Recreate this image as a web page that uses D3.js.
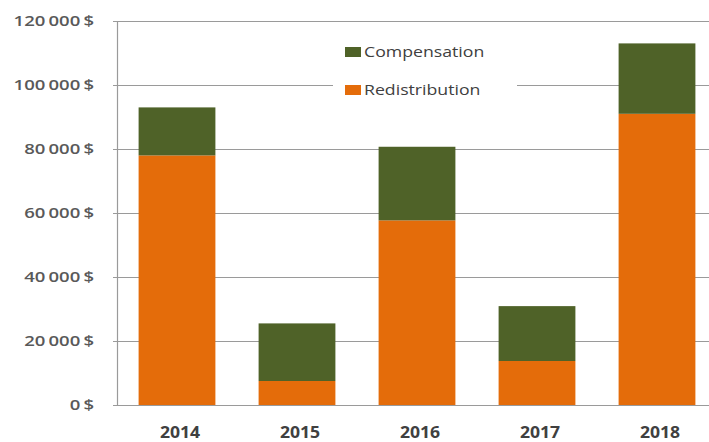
<!DOCTYPE html>
<html>
<head>
<meta charset="utf-8">
<script src="https://cdn.jsdelivr.net/npm/d3@7"></script>
<style>
  body { margin: 0; background: #fff; }
  svg { display: block; font-family: 'Open Sans', sans-serif; }
</style>
</head>
<body>
<div id="chart"></div>
<script>
const years = ['2014', '2015', '2016', '2017', '2018']
const redistribution = [78000, 7500, 57700, 13750, 91000]
const compensation = [15000, 18000, 23000, 17150, 22000]
const yTicks = [0, 20000, 40000, 60000, 80000, 100000, 120000]
const seriesNames = ['Compensation', 'Redistribution']
const seriesColors = { Compensation: '#4F6228', Redistribution: '#E46C0A' }

const width = 709
const height = 442
const plotLeft = 117
const plotTop = 21
const plotBottom = 405
const plotRight = 717

// the source picture is a bit stretched sideways, so text gets a small scaleX
const stretchY = 1.28
const stretchLegend = 1.18
const stretchX = 1.1

const rows = years.map((year, i) => ({
  year,
  Redistribution: redistribution[i],
  Compensation: compensation[i],
}))
const stacked = d3.stack().keys(['Redistribution', 'Compensation'])(rows)

const x = d3
  .scaleBand()
  .domain(years)
  .range([plotLeft, plotRight])
  .paddingInner(0.36)
  .paddingOuter(0.18)

const y = d3.scaleLinear().domain([0, 120000]).range([plotBottom, plotTop])

const formatMoney = v => d3.format(',')(v).replace(/,/g, '\u2009') + '\u2009$'

const svg = d3
  .select('#chart')
  .append('svg')
  .attr('width', width)
  .attr('height', height)

// gridlines
svg
  .append('g')
  .selectAll('line')
  .data(yTicks.filter(d => d > 0))
  .join('line')
  .attr('x1', plotLeft - 4)
  .attr('x2', width)
  .attr('y1', d => y(d) + 0.5)
  .attr('y2', d => y(d) + 0.5)
  .attr('stroke', '#9a9a9a')
  .attr('stroke-width', 1.2)

// y tick labels
svg
  .append('g')
  .attr('transform', `scale(${stretchY}, 1)`)
  .selectAll('text')
  .data(yTicks)
  .join('text')
  .attr('x', 94 / stretchY)
  .attr('y', d => y(d))
  .attr('dy', '0.35em')
  .attr('text-anchor', 'end')
  .attr('fill', '#595959')
  .attr('font-size', 14.5)
  .attr('font-weight', 600)
  .text(formatMoney)

// legend box, sits over the gridlines
const legend = svg.append('g')
legend
  .append('rect')
  .attr('x', 333)
  .attr('y', 32)
  .attr('width', 184)
  .attr('height', 76)
  .attr('fill', '#fff')

const legendItems = legend
  .selectAll('g')
  .data(seriesNames)
  .join('g')
  .attr('transform', (d, i) => `translate(345, ${52 + i * 38})`)
legendItems
  .append('rect')
  .attr('x', 0)
  .attr('y', -5)
  .attr('width', 16)
  .attr('height', 10)
  .attr('fill', d => seriesColors[d])
legendItems
  .append('text')
  .attr('transform', `scale(${stretchLegend}, 1)`)
  .attr('x', 19 / stretchLegend)
  .attr('y', 0)
  .attr('dy', '0.35em')
  .attr('fill', '#404040')
  .attr('font-size', 15)
  .attr('font-weight', 500)
  .text(d => d)

// bars
svg
  .append('g')
  .selectAll('g')
  .data(stacked)
  .join('g')
  .attr('fill', d => seriesColors[d.key])
  .selectAll('rect')
  .data(d => d)
  .join('rect')
  .attr('x', d => x(d.data.year))
  .attr('width', x.bandwidth())
  .attr('y', d => y(d[1]))
  .attr('height', d => y(d[0]) - y(d[1]))

// axes lines
svg
  .append('line')
  .attr('x1', plotLeft + 0.5)
  .attr('x2', plotLeft + 0.5)
  .attr('y1', plotTop)
  .attr('y2', plotBottom)
  .attr('stroke', '#9a9a9a')
  .attr('stroke-width', 1.2)
svg
  .append('line')
  .attr('x1', plotLeft - 4)
  .attr('x2', width)
  .attr('y1', plotBottom + 0.5)
  .attr('y2', plotBottom + 0.5)
  .attr('stroke', '#9a9a9a')
  .attr('stroke-width', 1.2)

// x labels
svg
  .append('g')
  .attr('transform', `scale(${stretchX}, 1)`)
  .selectAll('text')
  .data(years)
  .join('text')
  .attr('x', d => (x(d) + x.bandwidth() / 2 + 3) / stretchX)
  .attr('y', 432.5)
  .attr('dy', '0.35em')
  .attr('text-anchor', 'middle')
  .attr('fill', '#404040')
  .attr('font-size', 16)
  .attr('font-weight', 700)
  .text(d => d)
</script>
</body>
</html>
